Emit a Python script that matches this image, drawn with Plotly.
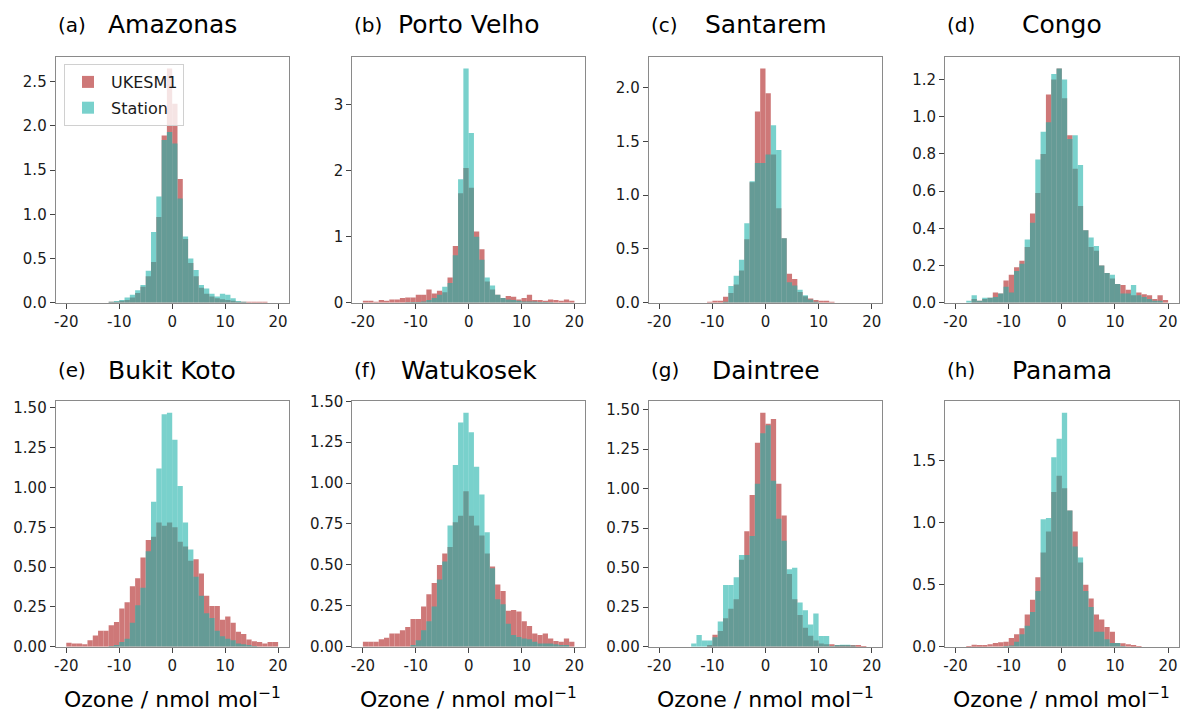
import plotly.graph_objects as go

# Bin centres (bins of width 1 between -20 and 20)
BIN_CENTERS = [-19.5, -18.5, -17.5, -16.5, -15.5, -14.5, -13.5, -12.5, -11.5, -10.5,
               -9.5, -8.5, -7.5, -6.5, -5.5, -4.5, -3.5, -2.5, -1.5, -0.5,
               0.5, 1.5, 2.5, 3.5, 4.5, 5.5, 6.5, 7.5, 8.5, 9.5,
               10.5, 11.5, 12.5, 13.5, 14.5, 15.5, 16.5, 17.5, 18.5, 19.5]

PANEL_LABELS = ["(a)", "(b)", "(c)", "(d)", "(e)", "(f)", "(g)", "(h)"]
SITES = ["Amazonas", "Porto Velho", "Santarem", "Congo",
         "Bukit Koto", "Watukosek", "Daintree", "Panama"]

X_TICKS = [-20, -10, 0, 10, 20]
X_TICKTEXT = ["-20", "-10", "0", "10", "20"]

# y tick spacing and label format for each panel
Y_DTICK = [0.5, 1, 0.5, 0.2, 0.25, 0.25, 0.25, 0.5]
Y_FMT = [".1f", "d", ".1f", ".1f", ".2f", ".2f", ".2f", ".1f"]

# ---- UKESM1 (model) densities ----
ukesm_amazonas = [0, 0, 0, 0, 0, 0, 0, 0, 0.003, 0.008,
                  0.015, 0.03, 0.06, 0.11, 0.18, 0.3, 0.46, 0.97, 1.89, 2.65,
                  2.25, 1.4, 0.72, 0.45, 0.3, 0.17, 0.1, 0.07, 0.05, 0.04,
                  0.03, 0.015, 0.01, 0.005, 0.004, 0.006, 0.008, 0.003, 0, 0]
ukesm_portovelho = [0.03, 0.02, 0.005, 0.04, 0.03, 0.05, 0.05, 0.07, 0.08, 0.08,
                    0.12, 0.12, 0.2, 0.14, 0.18, 0.16, 0.38, 0.86, 1.66, 2.04,
                    1.74, 1.08, 0.81, 0.32, 0.2, 0.12, 0.07, 0.1, 0.09, 0.05,
                    0.07, 0.12, 0.04, 0.04, 0.02, 0.05, 0.04, 0.02, 0.05, 0.02]
ukesm_santarem = [0, 0, 0, 0, 0, 0, 0, 0, 0, 0.005,
                  0.01, 0.015, 0.055, 0.09, 0.17, 0.3, 0.59, 1.12, 1.78, 2.18,
                  1.95, 1.38, 0.88, 0.6, 0.27, 0.22, 0.1, 0.06, 0.04, 0.025,
                  0.015, 0.01, 0.005, 0, 0, 0, 0, 0, 0, 0]
ukesm_congo = [0, 0, 0, 0.02, 0.01, 0.02, 0.027, 0.055, 0.05, 0.12,
               0.15, 0.19, 0.225, 0.3, 0.48, 0.59, 0.8, 1.12, 1.2, 1.26,
               1.1, 0.9, 0.72, 0.52, 0.39, 0.3, 0.28, 0.2, 0.16, 0.13,
               0.1, 0.095, 0.07, 0.04, 0.055, 0.045, 0.04, 0.02, 0.04, 0.015]
ukesm_bukitkoto = [0.025, 0.02, 0.02, 0.015, 0.04, 0.07, 0.1, 0.1, 0.135, 0.155,
                   0.24, 0.28, 0.38, 0.43, 0.56, 0.67, 0.69, 0.78, 0.76, 0.78,
                   0.75, 0.66, 0.63, 0.54, 0.55, 0.46, 0.32, 0.255, 0.255, 0.17,
                   0.19, 0.15, 0.094, 0.08, 0.046, 0.035, 0.03, 0.02, 0.03, 0.03]
ukesm_watukosek = [0.03, 0.03, 0.03, 0.045, 0.055, 0.08, 0.08, 0.1, 0.12, 0.17,
                   0.17, 0.245, 0.32, 0.39, 0.5, 0.57, 0.61, 0.76, 0.8, 0.95,
                   0.8, 0.74, 0.68, 0.57, 0.49, 0.38, 0.34, 0.22, 0.225, 0.215,
                   0.155, 0.127, 0.08, 0.072, 0.08, 0.05, 0.035, 0.03, 0.05, 0.03]
ukesm_daintree = [0, 0, 0, 0, 0, 0, 0, 0, 0, 0.01,
                  0.075, 0.1, 0.18, 0.24, 0.3, 0.55, 0.73, 0.96, 1.29, 1.48,
                  1.41, 1.44, 1.03, 0.83, 0.46, 0.3, 0.2, 0.12, 0.07, 0.04,
                  0.02, 0.015, 0.015, 0.01, 0.01, 0.008, 0.005, 0.005, 0.003, 0]
ukesm_panama = [0, 0, 0.005, 0.015, 0.008, 0.01, 0.02, 0.03, 0.035, 0.04,
                0.07, 0.1, 0.15, 0.26, 0.38, 0.56, 0.76, 0.93, 1.25, 1.38,
                1.28, 1.1, 0.93, 0.68, 0.5, 0.39, 0.26, 0.22, 0.16, 0.12,
                0.03, 0.027, 0.02, 0.012, 0.005, 0, 0, 0, 0, 0]

# ---- Station (observed) densities ----
station_amazonas = [0, 0, 0, 0, 0, 0, 0, 0, 0.01, 0.02,
                    0.03, 0.06, 0.09, 0.14, 0.2, 0.36, 0.8, 1.2, 1.84, 1.93,
                    1.8, 1.18, 0.75, 0.5, 0.37, 0.2, 0.16, 0.1, 0.07, 0.1,
                    0.09, 0.05, 0.02, 0.01, 0, 0, 0, 0, 0, 0]
station_portovelho = [0, 0, 0, 0, 0, 0, 0, 0, 0.005, 0.01,
                      0.01, 0.02, 0.04, 0.07, 0.12, 0.24, 0.3, 0.72, 1.87, 3.55,
                      2.57, 1.0, 0.65, 0.38, 0.26, 0.12, 0.07, 0.05, 0.04, 0.03,
                      0.02, 0.02, 0.02, 0.01, 0.01, 0.005, 0, 0, 0, 0]
station_santarem = [0, 0, 0, 0, 0, 0, 0, 0, 0, 0,
                    0, 0, 0.01, 0.155, 0.25, 0.4, 0.74, 1.13, 1.3, 1.3,
                    1.38, 1.65, 1.42, 0.6, 0.19, 0.16, 0.12, 0.07, 0.03, 0.01,
                    0, 0, 0, 0, 0, 0, 0, 0, 0, 0]
station_congo = [0, 0, 0.01, 0.04, 0.01, 0.027, 0.027, 0.03, 0.05, 0.086,
                 0.055, 0.17, 0.21, 0.34, 0.43, 0.77, 0.92, 0.97, 1.23, 1.26,
                 1.2, 0.88, 0.9, 0.74, 0.39, 0.35, 0.305, 0.2, 0.16, 0.15,
                 0.1, 0.05, 0.05, 0.095, 0.04, 0.03, 0.02, 0.01, 0.01, 0]
station_bukitkoto = [0, 0, 0, 0, 0, 0, 0, 0, 0.005, 0.01,
                     0.03, 0.05, 0.15, 0.26, 0.37, 0.6, 0.91, 1.12, 1.46, 1.47,
                     1.3, 1.01, 0.78, 0.61, 0.44, 0.32, 0.21, 0.18, 0.1, 0.065,
                     0.05, 0.04, 0.02, 0.015, 0.01, 0.005, 0, 0, 0, 0]
station_watukosek = [0, 0, 0, 0, 0, 0, 0, 0, 0, 0.01,
                     0.04, 0.1, 0.155, 0.245, 0.41, 0.52, 0.74, 1.11, 1.37, 1.43,
                     1.31, 1.1, 0.93, 0.7, 0.48, 0.29, 0.26, 0.14, 0.072, 0.06,
                     0.05, 0.045, 0.03, 0.02, 0.02, 0.02, 0.015, 0.01, 0.01, 0]
station_daintree = [0, 0, 0, 0, 0, 0, 0.02, 0.074, 0.04, 0.04,
                    0.06, 0.16, 0.39, 0.39, 0.44, 0.58, 0.58, 0.7, 1.03, 1.35,
                    1.4, 1.05, 0.81, 0.67, 0.49, 0.5, 0.28, 0.23, 0.14, 0.21,
                    0.067, 0.067, 0.005, 0.01, 0.012, 0.012, 0.008, 0, 0, 0]
station_panama = [0, 0, 0, 0, 0, 0, 0, 0, 0, 0.005,
                  0.01, 0.04, 0.1, 0.17, 0.28, 0.45, 1.03, 1.04, 1.53, 1.68,
                  1.89, 1.1, 0.81, 0.72, 0.45, 0.32, 0.12, 0.12, 0.06, 0.03,
                  0.03, 0.005, 0, 0, 0, 0, 0, 0, 0, 0]

UKESM = [ukesm_amazonas, ukesm_portovelho, ukesm_santarem, ukesm_congo,
         ukesm_bukitkoto, ukesm_watukosek, ukesm_daintree, ukesm_panama]
STATION = [station_amazonas, station_portovelho, station_santarem, station_congo,
           station_bukitkoto, station_watukosek, station_daintree, station_panama]

# ---- styling / layout ----
W, H = 1187, 711
RED = "rgb(206,120,120)"
TEAL = "rgba(32,178,170,0.6)"
FONT = "DejaVu Sans"
TEXT = "#1a1a1a"

# panel boxes in pixels: (left, right) and (top, bottom)
COLS_PX = [(55.7, 288.7), (352.3, 585.0), (648.7, 882.3), (945.0, 1178.7)]
ROWS_PX = [(56.7, 302.7), (401.0, 646.7)]
TITLE_Y_PX = [25, 370]
XLABEL_BOTTOM_PX = 714

fig = go.Figure()
layout = dict(
    template="none",
    width=W, height=H, autosize=False,
    margin=dict(l=0, r=0, t=0, b=0, pad=0),
    paper_bgcolor="white", plot_bgcolor="white",
    barmode="overlay",
    font=dict(family=FONT, color=TEXT),
    showlegend=True,
    legend=dict(x=64 / W, y=1 - 64 / H, xanchor="left", yanchor="top",
                bgcolor="rgba(255,255,255,0.8)", bordercolor="#d0d0d0",
                borderwidth=1, font=dict(size=16, family=FONT, color=TEXT),
                tracegroupgap=2, itemwidth=36),
)
annotations = []

for k in range(8):
    r, c = divmod(k, 4)
    idx = "" if k == 0 else str(k + 1)
    xa, ya = "x" + idx, "y" + idx
    fig.add_trace(go.Bar(x=BIN_CENTERS, y=UKESM[k], width=1.0, name="UKESM1",
                         marker=dict(color=RED, line=dict(width=0)),
                         xaxis=xa, yaxis=ya, showlegend=(k == 0),
                         legendgroup="ukesm"))
    fig.add_trace(go.Bar(x=BIN_CENTERS, y=STATION[k], width=1.0, name="Station",
                         marker=dict(color=TEAL, line=dict(width=0)),
                         xaxis=xa, yaxis=ya, showlegend=(k == 0),
                         legendgroup="station"))
    ymax = 1.05 * max(max(UKESM[k]), max(STATION[k]))
    (l, rr), (t, b) = COLS_PX[c], ROWS_PX[r]
    layout["xaxis" + idx] = dict(
        domain=[l / W, rr / W], anchor=ya, range=[-22, 22], automargin=False,
        tickmode="array", tickvals=X_TICKS, ticktext=X_TICKTEXT,
        ticks="outside", ticklen=5, tickcolor="#444", tickwidth=1,
        showline=True, mirror=True, linecolor="#8a8a8a", linewidth=1,
        showgrid=False, zeroline=False,
        tickfont=dict(size=15, family=FONT, color=TEXT))
    layout["yaxis" + idx] = dict(
        domain=[1 - b / H, 1 - t / H], anchor=xa, range=[0, ymax], automargin=False,
        tickmode="linear", tick0=0, dtick=Y_DTICK[k], tickformat=Y_FMT[k],
        ticks="outside", ticklen=5, tickcolor="#444", tickwidth=1,
        showline=True, mirror=True, linecolor="#8a8a8a", linewidth=1,
        showgrid=False, zeroline=False,
        tickfont=dict(size=15, family=FONT, color=TEXT))
    ty = 1 - TITLE_Y_PX[r] / H
    annotations.append(dict(text=SITES[k], xref="paper", yref="paper",
                            x=(l + rr) / 2 / W, y=ty, xanchor="center", yanchor="middle",
                            showarrow=False, font=dict(size=25, family=FONT, color="black")))
    annotations.append(dict(text=PANEL_LABELS[k], xref="paper", yref="paper",
                            x=l / W, y=ty, xanchor="left", yanchor="middle",
                            showarrow=False, font=dict(size=20, family=FONT, color="black")))
    if r == 1:
        annotations.append(dict(text="Ozone / nmol mol<sup>−1</sup>", xref="paper", yref="paper",
                                x=(l + rr) / 2 / W, y=1 - XLABEL_BOTTOM_PX / H,
                                xanchor="center", yanchor="bottom", showarrow=False,
                                font=dict(size=22, family=FONT, color="black")))

layout["annotations"] = annotations
fig.update_layout(**layout)
fig.write_html("out.html",
               config={"displayModeBar": False},
               post_script="document.body.style.margin='0';document.body.style.overflow='hidden';")
